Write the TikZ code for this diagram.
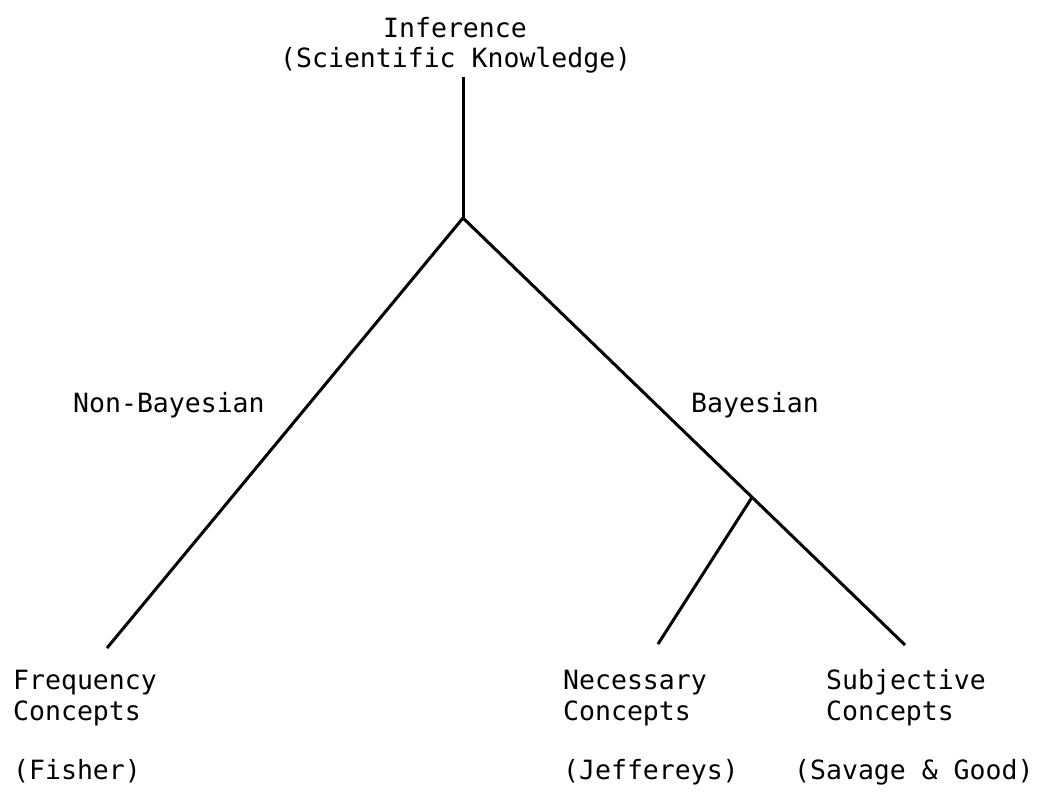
\documentclass[tikz,border=0pt]{standalone}
\usepackage{fontspec}
\setmonofont{DejaVu Sans Mono}
\usetikzlibrary{calc}
\begin{document}
\begin{tikzpicture}[x=1pt,y=-1pt,
  lbl/.style={anchor=base west,inner sep=0pt,font=\ttfamily\fontsize{26.5}{30}\selectfont},
  branch/.style={line width=3pt,line join=round}]
\useasboundingbox (0,0) rectangle (1040,793);
% labels
\node[lbl] (inf) at (383,37) {Inference};
\node[lbl] (sci) at (280,67) {(Scientific Knowledge)};
\node[lbl] (nonbay) at (73,412) {Non-Bayesian};
\node[lbl] (bay) at (691,412) {Bayesian};
\node[lbl] (freqA) at (13,689) {Frequency};
\node[lbl] (freqB) at (13,720) {Concepts};
\node[lbl] (fisher) at (13,779) {(Fisher)};
\node[lbl] (necA) at (563,689) {Necessary};
\node[lbl] (necB) at (563,720) {Concepts};
\node[lbl] (jeff) at (563,779) {(Jeffereys)};
\node[lbl] (subA) at (826,689) {Subjective};
\node[lbl] (subB) at (826,720) {Concepts};
\node[lbl] (savage) at (794,779) {(Savage \& Good)};
% tree points
\coordinate (root) at (463,77);
\coordinate (fork) at (463,218);
\coordinate (freqEnd) at (107,648);
\coordinate (subEnd) at (905,645);
\coordinate (subfork) at ($(fork)!0.654!(subEnd)$);
\coordinate (necEnd) at (658,644);
% branches
\draw[branch] (root) -- (fork);
\draw[branch] (fork) -- (freqEnd);
\draw[branch] (fork) -- (subEnd);
\draw[branch] (subfork) -- (necEnd);
\end{tikzpicture}
\end{document}
